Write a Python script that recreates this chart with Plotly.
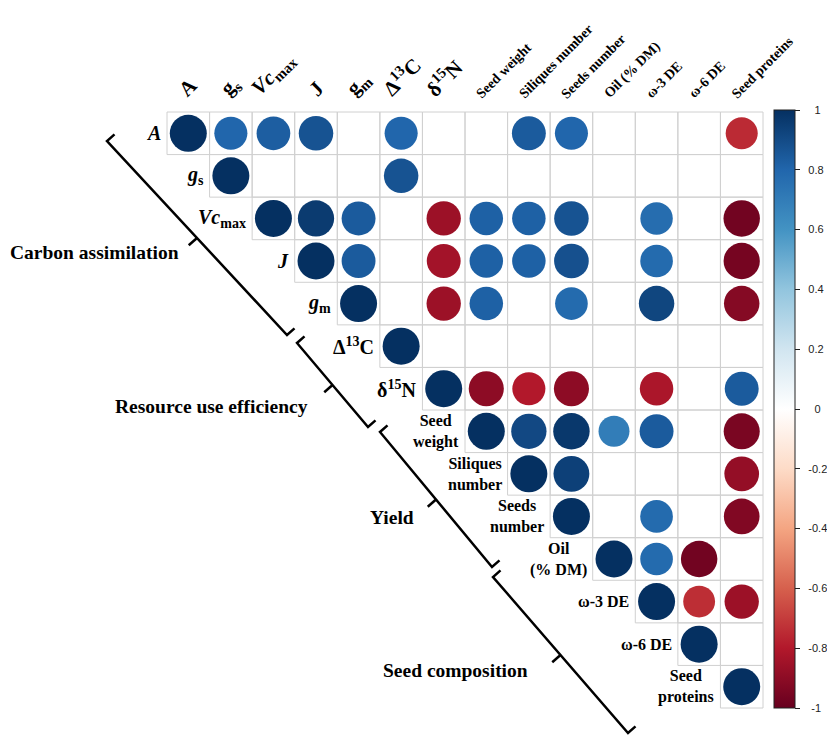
import math
import plotly.graph_objects as go

# ---------------- data ----------------
variables = ["A", "gs", "Vcmax", "J", "gm", "D13C", "d15N", "Seed weight",
             "Siliques number", "Seeds number", "Oil (% DM)", "w-3 DE", "w-6 DE", "Seed proteins"]

row_labels = ["<i>A</i>", "<i>g</i><sub>s</sub>", "<i>Vc</i><sub>max</sub>", "<i>J</i>",
              "<i>g</i><sub>m</sub>", "Δ<sup>13</sup>C", "δ<sup>15</sup>N", "Seed<br>weight",
              "Siliques<br>number", "Seeds<br>number", "Oil<br>(% DM)", "ω-3 DE", "ω-6 DE",
              "Seed<br>proteins"]
col_labels = ["A", "g<sub>s</sub>", "<i>Vc</i><sub>max</sub>", "J", "g<sub>m</sub>",
              "Δ<sup>13</sup>C", "δ<sup>15</sup>N", "Seed weight", "Siliques number",
              "Seeds number", "Oil (% DM)", "ω-3 DE", "ω-6 DE", "Seed proteins"]
symbol_count = 7  # first 7 labels are symbols (larger font)

N = None
# upper-triangle correlations, one list per row (starting at the diagonal)
r_A     = [1.00, 0.80, 0.83, 0.87, N, 0.80, N, N, 0.84, 0.80, N, N, N, -0.75]
r_gs    = [1.00, N, N, N, 0.87, N, N, N, N, N, N, N, N]
r_Vcmax = [1.00, 0.96, 0.84, N, -0.86, 0.82, 0.82, 0.87, N, 0.77, N, -0.97]
r_J     = [1.00, 0.84, N, -0.84, 0.82, 0.82, 0.88, N, 0.78, N, -0.96]
r_gm    = [1.00, N, -0.86, 0.82, N, 0.78, N, 0.92, N, -0.92]
r_D13C  = [1.00, N, N, N, N, N, N, N, N]
r_d15N  = [1.00, -0.90, -0.80, -0.90, N, -0.82, N, 0.84]
r_SW    = [1.00, 0.91, 0.97, 0.70, 0.84, N, -0.95]
r_SilN  = [1.00, 0.94, N, N, N, -0.88]
r_SeedN = [1.00, N, 0.78, N, -0.93]
r_Oil   = [1.00, 0.78, -0.97, N]
r_w3    = [1.00, -0.74, -0.86]
r_w6    = [1.00, N]
r_SP    = [1.00]
rows = [r_A, r_gs, r_Vcmax, r_J, r_gm, r_D13C, r_d15N, r_SW, r_SilN, r_SeedN,
        r_Oil, r_w3, r_w6, r_SP]

cbar_vals = [1, 0.8, 0.6, 0.4, 0.2, 0, -0.2, -0.4, -0.6, -0.8, -1]
cbar_text = ["1", "0.8", "0.6", "0.4", "0.2", "0", "-0.2", "-0.4", "-0.6", "-0.8", "-1"]

groups = ["Carbon assimilation", "Resource use efficiency", "Yield", "Seed composition"]

# ---------------- layout geometry (reference pixels) ----------------
OFF = 8                      # page margin around the figure
W, H = 835 - OFF, 739 - OFF  # figure size
GL, GT, GR = 167, 112, 763   # grid edges in page pixels
C = (GR - GL) / 14.0


def px2x(p):
    return (p - GL) / C - 0.5


def py2y(p):
    return (p - GT) / C - 0.5


n = len(variables)
xs, ys, vs = [], [], []
for i, row in enumerate(rows):
    for k, v in enumerate(row):
        if v is None:
            continue
        xs.append(i + k)
        ys.append(i)
        vs.append(v)

rdbu = ["#67001F", "#B2182B", "#D6604D", "#F4A582", "#FDDBC7", "#FFFFFF",
        "#D1E5F0", "#92C5DE", "#4393C3", "#2166AC", "#053061"]
colorscale = [[k / 10.0, c] for k, c in enumerate(rdbu)]


def label_pad(t):
    if t in ("1", "0"):
        return 4
    if t == "-1":
        return 3
    return 2


cbar_ticktext = [("\u00a0" * label_pad(t)) + t for t in cbar_text]

fig = go.Figure()
fig.add_trace(go.Scatter(
    x=xs, y=ys, mode="markers", hoverinfo="skip",
    marker=dict(
        size=[37 * math.sqrt(abs(v)) for v in vs],
        color=vs, colorscale=colorscale, cmin=-1, cmax=1,
        line=dict(width=0), opacity=1,
        showscale=True,
        colorbar=dict(
            x=(774 - OFF) / W, xanchor="left", y=1 - (110 - OFF) / H, yanchor="top",
            len=598, lenmode="pixels", thickness=21, thicknessmode="pixels",
            xpad=0, ypad=0, outlinewidth=1, outlinecolor="#222",
            tickmode="array", tickvals=cbar_vals, ticktext=cbar_ticktext,
            ticks="outside", ticklen=5, tickcolor="#222", tickwidth=1,
            tickfont=dict(family="Liberation Sans", size=11, color="#222"),
        ),
    ),
    showlegend=False,
))

shapes = []
for i in range(n):
    for j in range(i, n):
        shapes.append(dict(type="rect", xref="x", yref="y", x0=j - 0.5, x1=j + 0.5,
                           y0=i - 0.5, y1=i + 0.5, line=dict(color="#D0D0D0", width=1),
                           layer="below"))

# brackets along the diagonal
brackets_px = [((107, 141), (287, 335)), ((297, 343), (368, 427)),
               ((380, 432), (492, 567)), ((493, 577), (628, 733))]
dx, dy = 521.0, 592.0
L = math.hypot(dx, dy)
ux, uy = dx / L, dy / L
px_, py_ = uy, -ux  # perpendicular towards upper right
tick_end, tick_mid = 10, 11
bracket_labels_px = [(94, 252), (211, 406), (392, 517), (455, 670)]
for (s, e) in brackets_px:
    pts = [(s[0] + px_ * tick_end, s[1] + py_ * tick_end), s, e,
           (e[0] + px_ * tick_end, e[1] + py_ * tick_end)]
    path = "M " + " L ".join(f"{px2x(a):.4f},{py2y(b):.4f}" for a, b in pts)
    shapes.append(dict(type="path", xref="x", yref="y", path=path,
                       line=dict(color="black", width=2.5)))
    mx, my = (s[0] + e[0]) / 2, (s[1] + e[1]) / 2
    shapes.append(dict(type="line", xref="x", yref="y", x0=px2x(mx), y0=py2y(my),
                       x1=px2x(mx - px_ * tick_mid), y1=py2y(my - py_ * tick_mid),
                       line=dict(color="black", width=2.5)))

annotations = []
serif = "Liberation Serif"
for i, lab in enumerate(row_labels):
    size = 20 if i < symbol_count else 16
    annotations.append(dict(x=i - 0.5, y=i, xref="x", yref="y", text=f"<b>{lab}</b>",
                            showarrow=False, xanchor="right", yanchor="middle",
                            xshift=-4, align="center",
                            font=dict(family=serif, size=size, color="black")))
for j, lab in enumerate(col_labels):
    if j < symbol_count:
        annotations.append(dict(x=j, y=-0.5, xref="x", yref="y", text=f"<b>{lab}</b>",
                                showarrow=False, xanchor="center", yanchor="bottom",
                                xshift=0, yshift=8, textangle=-45,
                                font=dict(family=serif, size=21, color="black")))
    else:
        annotations.append(dict(x=j, y=-0.5, xref="x", yref="y", text=f"<b>{lab}</b>",
                                showarrow=False, xanchor="left", yanchor="bottom",
                                xshift=-16, yshift=8, textangle=-45,
                                font=dict(family=serif, size=14, color="black")))
for g, (gx, gy) in zip(groups, bracket_labels_px):
    annotations.append(dict(x=px2x(gx), y=py2y(gy), xref="x", yref="y",
                            text=f"<b>{g}</b>", showarrow=False,
                            xanchor="center", yanchor="middle",
                            font=dict(family=serif, size=19.5, color="black")))

fig.update_layout(
    width=W, height=H, margin=dict(l=0, r=0, t=0, b=0, autoexpand=False),
    paper_bgcolor="white", plot_bgcolor="white",
    xaxis=dict(range=[px2x(OFF), px2x(OFF + W)], visible=False, fixedrange=True),
    yaxis=dict(range=[py2y(OFF + H), py2y(OFF)], visible=False, fixedrange=True),
    shapes=shapes, annotations=annotations,
)

fig.write_html("out.html")
